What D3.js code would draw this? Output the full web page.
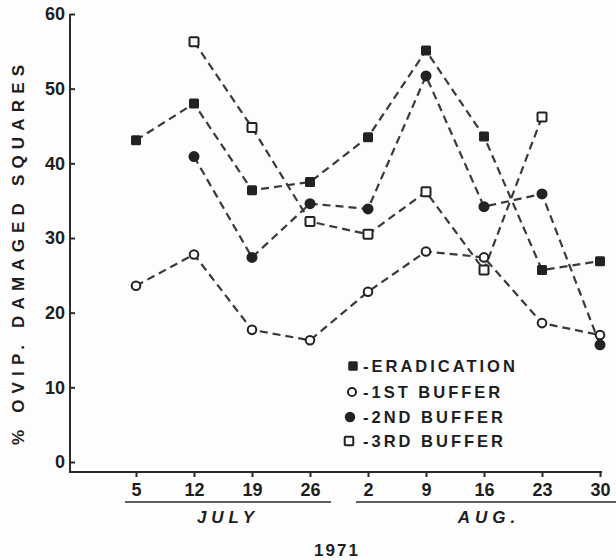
<!DOCTYPE html>
<html>
<head>
<meta charset="utf-8">
<script src="https://cdn.jsdelivr.net/npm/d3@7"></script>
<style>
  body { margin: 0; background: #fdfdfd; }
  svg { display: block; }
  text { font-family: "Liberation Sans", Arial, sans-serif; font-weight: bold; fill: #1e1e1e; }
</style>
</head>
<body>
<div id="chart"></div>
<script>
// sampling dates (1971)
var dates = ["Jul 5", "Jul 12", "Jul 19", "Jul 26", "Aug 2", "Aug 9", "Aug 16", "Aug 23", "Aug 30"]
var tickLabels = ["5", "12", "19", "26", "2", "9", "16", "23", "30"]
var yTicks = [0, 10, 20, 30, 40, 50, 60]

// % ovip. damaged squares
var eradication = [43.1, 48.0, 36.4, 37.5, 43.5, 55.1, 43.6, 25.7, 26.9]
var buffer1 = [23.6, 27.8, 17.7, 16.3, 22.8, 28.2, 27.4, 18.6, 17.0]
var buffer2 = [null, 40.9, 27.4, 34.6, 33.9, 51.7, 34.2, 35.9, 15.7]
var buffer3 = [null, 56.3, 44.8, 32.2, 30.5, 36.2, 25.7, 46.2, null]

var seriesNames = ["-ERADICATION", "-1ST BUFFER", "-2ND BUFFER", "-3RD BUFFER"]

var w = 616
var h = 560
var ink = "#2a2a2a"

var svg = d3.select("#chart").append("svg")
  .attr("width", w)
  .attr("height", h)

var x = d3.scalePoint().domain(dates).range([136, 600])
var y = d3.scaleLinear().domain([0, 60]).range([462, 14])

var series = [
  {name: seriesNames[0], values: eradication, mark: "fsquare"},
  {name: seriesNames[1], values: buffer1, mark: "ocircle"},
  {name: seriesNames[2], values: buffer2, mark: "fcircle"},
  {name: seriesNames[3], values: buffer3, mark: "osquare"}
]

// axes frame
svg.append("line")
  .attr("x1", 70).attr("x2", 70)
  .attr("y1", y(60)).attr("y2", 472)
  .attr("stroke", ink).attr("stroke-width", 2)
svg.append("line")
  .attr("x1", 69).attr("x2", x(dates[8]) + 2)
  .attr("y1", 472).attr("y2", 472)
  .attr("stroke", ink).attr("stroke-width", 2)

var yAxis = d3.axisLeft(y).tickValues(yTicks).tickSize(-5).tickPadding(5)
var gy = svg.append("g").attr("transform", "translate(70,0)").call(yAxis)
gy.select(".domain").remove()
gy.selectAll(".tick line").attr("stroke", ink).attr("stroke-width", 2)
gy.selectAll(".tick text")
  .style("font-size", "18px")
  .style("font-family", "'Liberation Sans', Arial, sans-serif")
  .style("font-weight", "bold")
  .attr("fill", "#1e1e1e")

var xAxis = d3.axisBottom(x).tickFormat((d, i) => tickLabels[i]).tickSize(5).tickPadding(6)
var gx = svg.append("g").attr("transform", "translate(0,472)").call(xAxis)
gx.select(".domain").remove()
gx.selectAll(".tick line").attr("stroke", ink).attr("stroke-width", 2)
gx.selectAll(".tick text")
  .style("font-size", "18px")
  .style("font-family", "'Liberation Sans', Arial, sans-serif")
  .style("font-weight", "bold")
  .attr("fill", "#1e1e1e")

// month underlines and labels
svg.append("line").attr("x1", 125).attr("x2", 331).attr("y1", 502).attr("y2", 502)
  .attr("stroke", ink).attr("stroke-width", 1.6)
svg.append("line").attr("x1", 356).attr("x2", 616).attr("y1", 502).attr("y2", 502)
  .attr("stroke", ink).attr("stroke-width", 1.6)

svg.append("text").attr("x", 228).attr("y", 523)
  .attr("text-anchor", "middle")
  .style("font-size", "17px").style("font-style", "italic").style("letter-spacing", "5px")
  .text("JULY")
svg.append("text").attr("x", 489).attr("y", 523)
  .attr("text-anchor", "middle")
  .style("font-size", "17px").style("font-style", "italic").style("letter-spacing", "5px")
  .text("AUG.")
svg.append("text").attr("x", 337).attr("y", 556)
  .attr("text-anchor", "middle")
  .style("font-size", "17px").style("letter-spacing", "2px")
  .text("1971")

// y title
svg.append("text")
  .attr("transform", "translate(24,255) rotate(-90)")
  .attr("text-anchor", "middle")
  .attr("textLength", 380)
  .attr("lengthAdjust", "spacing")
  .style("font-size", "17px")
  .text("% OVIP. DAMAGED SQUARES")

// dashed lines
var line = d3.line()
  .defined(d => d.v != null)
  .x(d => x(d.date))
  .y(d => y(d.v))

svg.selectAll(".series")
  .data(series)
  .enter().append("path")
  .attr("class", "series")
  .attr("fill", "none")
  .attr("stroke", "#3a3a3a")
  .attr("stroke-width", 2.2)
  .attr("stroke-dasharray", "8,5")
  .attr("d", s => line(s.values.map((v, i) => ({date: dates[i], v: v}))))

function drawMark(g, kind, cx, cy, k) {
  k = k || 1
  if (kind == "fsquare") {
    g.append("rect").attr("x", cx - 5 * k).attr("y", cy - 5 * k)
      .attr("width", 10 * k).attr("height", 10 * k).attr("rx", 1.5)
      .attr("fill", "#222")
  } else if (kind == "osquare") {
    g.append("rect").attr("x", cx - 4.5 * k).attr("y", cy - 4.5 * k)
      .attr("width", 9 * k).attr("height", 9 * k).attr("rx", 1)
      .attr("fill", "#fdfdfd").attr("stroke", "#222").attr("stroke-width", 2)
  } else if (kind == "ocircle") {
    g.append("circle").attr("cx", cx).attr("cy", cy).attr("r", 4.3 * k)
      .attr("fill", "#fdfdfd").attr("stroke", "#222").attr("stroke-width", 2)
  } else {
    g.append("circle").attr("cx", cx).attr("cy", cy).attr("r", 5.5 * k)
      .attr("fill", "#222")
  }
}

var marks = svg.append("g")
series.forEach(function(s) {
  s.values.forEach(function(v, i) {
    if (v == null) return
    drawMark(marks, s.mark, x(dates[i]), y(v))
  })
})

// legend
var legendY = [366, 392, 417, 441]
var legendMx = [353, 352, 350, 349]
var legend = svg.append("g")
series.forEach(function(s, i) {
  drawMark(legend, s.mark, legendMx[i], legendY[i], 0.95)
  legend.append("text")
    .attr("x", 363)
    .attr("y", legendY[i] + 6)
    .style("font-size", "16.5px")
    .style("letter-spacing", "3px")
    .text(s.name)
})
</script>
</body>
</html>
